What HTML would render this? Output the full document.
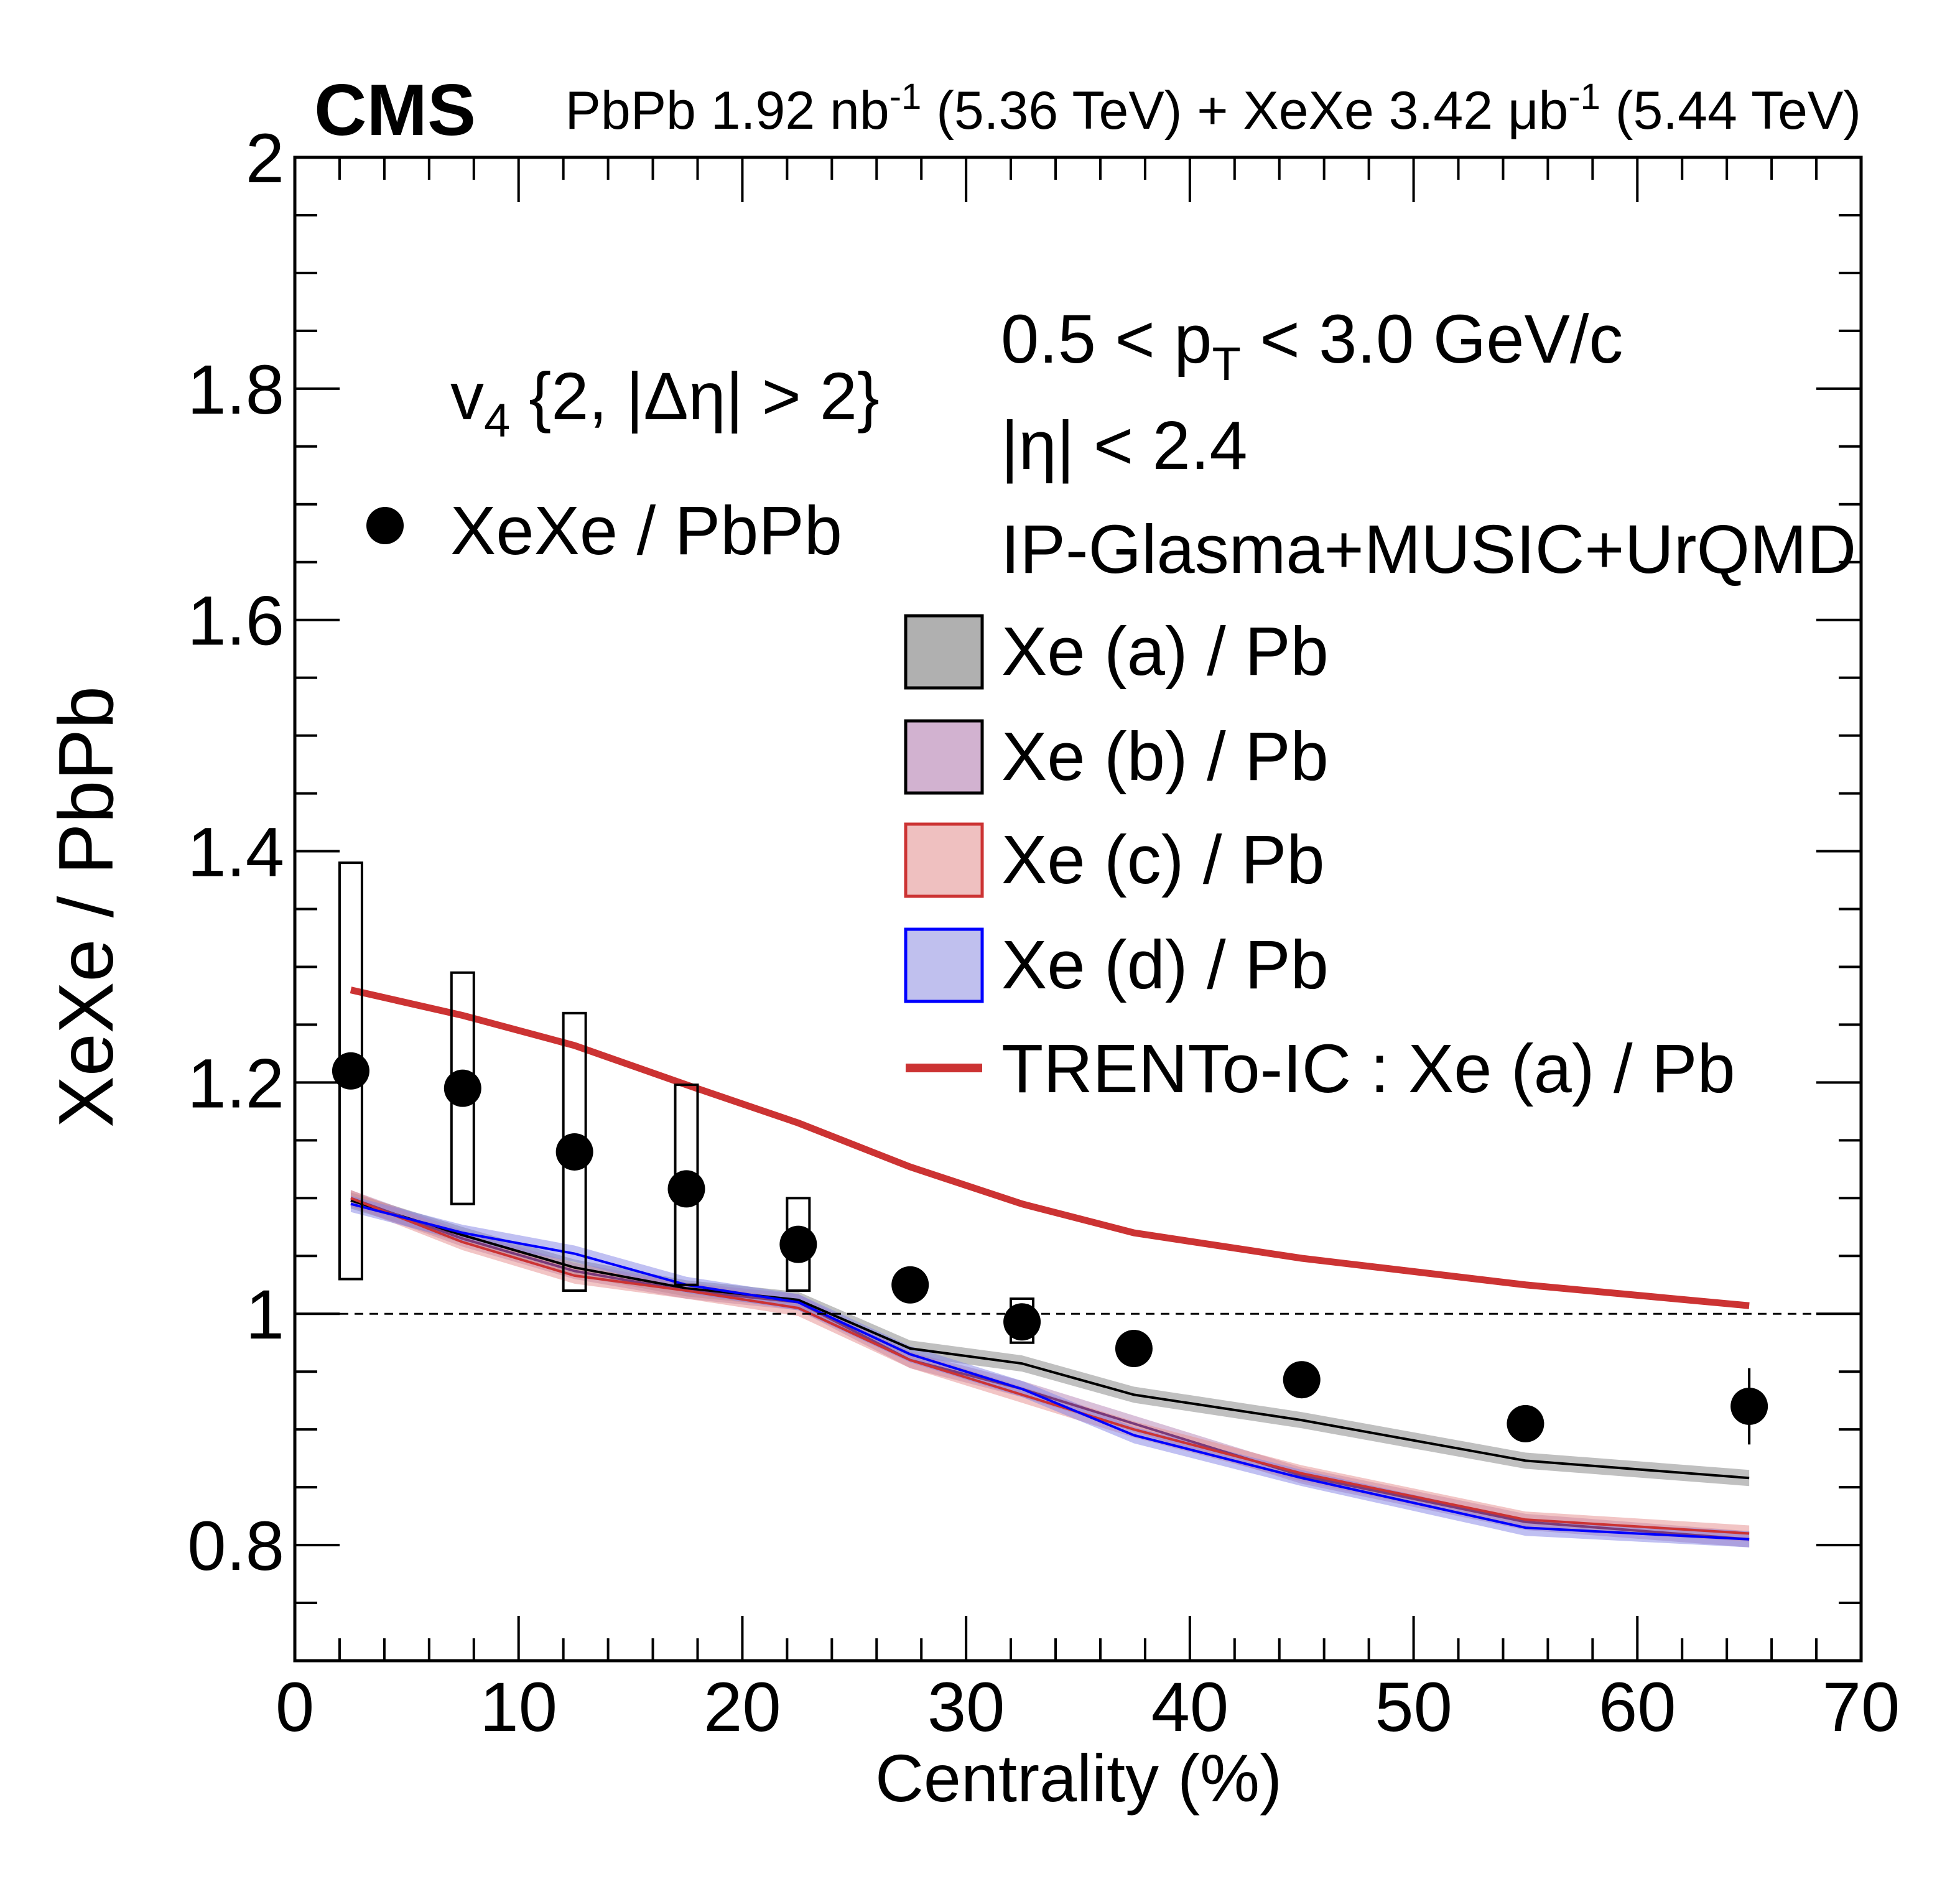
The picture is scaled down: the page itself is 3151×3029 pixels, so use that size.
<!DOCTYPE html>
<html><head><meta charset="utf-8"><style>
html,body{margin:0;padding:0;background:#fff;}
svg{display:block;font-family:"Liberation Sans",sans-serif;}
</style></head><body>
<svg id="chart" width="3151" height="3029" viewBox="0 0 3151 3029" xmlns="http://www.w3.org/2000/svg">
<rect x="0" y="0" width="3151" height="3029" fill="#fff"/>
<g id="bands"></g>
<g id="lines"></g>
<g id="data"></g>
<g id="axes"></g>
<text x="505" y="217" font-size="117" font-weight="bold">CMS</text>
<text x="2992" y="207" font-size="86" text-anchor="end">PbPb 1.92 nb<tspan dy="-32" font-size="58">-1</tspan><tspan dy="32"> (5.36 TeV) + XeXe 3.42 μb</tspan><tspan dy="-32" font-size="58">-1</tspan><tspan dy="32"> (5.44 TeV)</tspan></text>
<text x="1609" y="583" font-size="110">0.5 &lt; p<tspan dy="28" font-size="76">T</tspan><tspan dy="-28"> &lt; 3.0 GeV/c</tspan></text>
<text x="1609" y="754" font-size="110">|η| &lt; 2.4</text>
<text x="1609" y="921" font-size="110">IP-Glasma+MUSIC+UrQMD</text>
<text x="724" y="674" font-size="108">v<tspan dy="28" font-size="76">4</tspan><tspan dy="-28"> {2, |Δη| &gt; 2}</tspan></text>
<circle cx="619" cy="845" r="30" fill="#000"/>
<text x="724" y="891" font-size="110">XeXe / PbPb</text>
<g>
<rect x="1456" y="990" width="123" height="116" fill="#b0b0b0" stroke="#000" stroke-width="5"/>
<text x="1610" y="1085" font-size="110">Xe (a) / Pb</text>
<rect x="1456" y="1159" width="123" height="116" fill="#d2b2d0" stroke="#000" stroke-width="5"/>
<text x="1610" y="1254" font-size="110">Xe (b) / Pb</text>
<rect x="1456" y="1325" width="123" height="116" fill="#efc0c0" stroke="#cc3333" stroke-width="5"/>
<text x="1610" y="1420" font-size="110">Xe (c) / Pb</text>
<rect x="1456" y="1494" width="123" height="116" fill="#c0c0ee" stroke="#0000ff" stroke-width="5"/>
<text x="1610" y="1589" font-size="110">Xe (d) / Pb</text>
<line x1="1456" y1="1717" x2="1579" y2="1717" stroke="#cc3333" stroke-width="14"/>
<text x="1610" y="1756" font-size="110">TRENTo-IC : Xe (a) / Pb</text>
</g>
<text x="1734" y="2896" font-size="108" text-anchor="middle">Centrality (%)</text>
<text x="181" y="1458" font-size="124" text-anchor="middle" transform="rotate(-90 181 1458)">XeXe / PbPb</text>
</svg>
<script>
const centrality=[2.5,7.5,12.5,17.5,22.5,27.5,32.5,37.5,45,55,65];
const dataValues=[1.21,1.195,1.14,1.108,1.06,1.025,0.993,0.97,0.943,0.905,0.92];
const sysLow=[1.03,1.095,1.02,1.025,1.02,1.015,0.975,0.965,0.94,0.9,0.915];
const sysHigh=[1.39,1.295,1.26,1.198,1.1,1.035,1.013,0.975,0.946,0.91,0.925];
const statErr=[0,0,0,0,0,0.01,0.01,0,0,0,0.033];
const modelA=[1.098,1.068,1.04,1.022,1.012,0.97,0.957,0.93,0.908,0.873,0.858];
const modelB=[1.1,1.065,1.037,1.02,1.01,0.96,0.935,0.905,0.86,0.82,0.805];
const modelC=[1.1,1.062,1.033,1.02,1.005,0.96,0.93,0.9,0.862,0.822,0.81];
const modelD=[1.095,1.07,1.052,1.025,1.01,0.965,0.935,0.895,0.858,0.815,0.805];
const modelErr=0.007;
const trento=[1.28,1.258,1.232,1.198,1.165,1.127,1.095,1.07,1.048,1.025,1.007];
const xTickLabels=[0,10,20,30,40,50,60,70];
const yTickLabels=[0.8,1,1.2,1.4,1.6,1.8,2];

const NS="http://www.w3.org/2000/svg";
const L=474,R=2992,T=253,B=2670,XMIN=0,XMAX=70,YMIN=0.7,YMAX=2;
function X(v){return L+(v-XMIN)/(XMAX-XMIN)*(R-L);}
function Y(v){return B-(v-YMIN)/(YMAX-YMIN)*(B-T);}
function mk(tag,attrs,parent){const e=document.createElementNS(NS,tag);for(const k in attrs)e.setAttribute(k,attrs[k]);parent.appendChild(e);return e;}
const bands=document.getElementById('bands'),lines=document.getElementById('lines'),data=document.getElementById('data'),axes=document.getElementById('axes');

const models=[[modelA,'rgba(150,150,150,0.6)','#000','a'],[modelB,'rgba(180,130,180,0.5)','#7a3a7a','b'],[modelC,'rgba(230,140,140,0.5)','#cc3333','c'],[modelD,'rgba(130,130,230,0.5)','#0000ff','d']];
models.forEach(m=>{
  const vals=m[0];
  let d='M'+centrality.map((c,i)=>X(c)+','+Y(vals[i]+modelErr)).join(' L');
  d+=' L'+centrality.slice().reverse().map((c,j)=>{const i=centrality.length-1-j;return X(c)+','+Y(vals[i]-modelErr);}).join(' L')+' Z';
  const b=mk('path',{d:d,fill:m[1],stroke:'none'},bands);
  
  
  const l=mk('polyline',{points:centrality.map((c,i)=>X(c)+','+Y(vals[i])).join(' '),fill:'none',stroke:m[2],'stroke-width':4},lines);
  
  
});
const tl=mk('polyline',{points:centrality.map((c,i)=>X(c)+','+Y(trento[i])).join(' '),fill:'none',stroke:'#cc3333','stroke-width':11},lines);



const dl=mk('line',{x1:L,x2:R,y1:Y(1),y2:Y(1),stroke:'#000','stroke-width':3,'stroke-dasharray':'14,10'},lines);



centrality.forEach((c,i)=>{
  const bx=mk('rect',{x:X(c-0.5),y:Y(sysHigh[i]),width:X(c+0.5)-X(c-0.5),height:Y(sysLow[i])-Y(sysHigh[i]),fill:'none',stroke:'#000','stroke-width':4},data);
  
  
  if(statErr[i]>0){
    const e=mk('line',{x1:X(c),x2:X(c),y1:Y(dataValues[i]+statErr[i]),y2:Y(dataValues[i]-statErr[i]),stroke:'#000','stroke-width':4},data);
    
    
  }
  const p=mk('circle',{cx:X(c),cy:Y(dataValues[i]),r:30,fill:'#000'},data);
  
  
});

const fr=mk('rect',{x:L,y:T,width:R-L,height:B-T,fill:'none',stroke:'#000','stroke-width':5},axes);


for(let v=0;v<=70;v+=2){
  const major=v%10===0,len=major?72:36;
  mk('line',{x1:X(v),x2:X(v),y1:B,y2:B-len,stroke:'#000','stroke-width':4},axes);
  mk('line',{x1:X(v),x2:X(v),y1:T,y2:T+len,stroke:'#000','stroke-width':4},axes);
}
for(let k=0;k<=26;k++){
  const v=0.7+k*0.05,major=Math.abs((v*10)%2)<0.01||Math.abs((v*10)%2-2)<0.01,len=major?72:36;
  mk('line',{x1:L,x2:L+len,y1:Y(v),y2:Y(v),stroke:'#000','stroke-width':4},axes);
  mk('line',{x1:R,x2:R-len,y1:Y(v),y2:Y(v),stroke:'#000','stroke-width':4},axes);
}
xTickLabels.forEach(v=>{
  const t=mk('text',{x:X(v),y:2783,'font-size':112,'text-anchor':'middle'},axes);
  t.textContent=v;
  
  
});
yTickLabels.forEach(v=>{
  const t=mk('text',{x:457,y:Y(v)+40,'font-size':112,'text-anchor':'end'},axes);
  t.textContent=v;
  
  
});
</script>
</body></html>
